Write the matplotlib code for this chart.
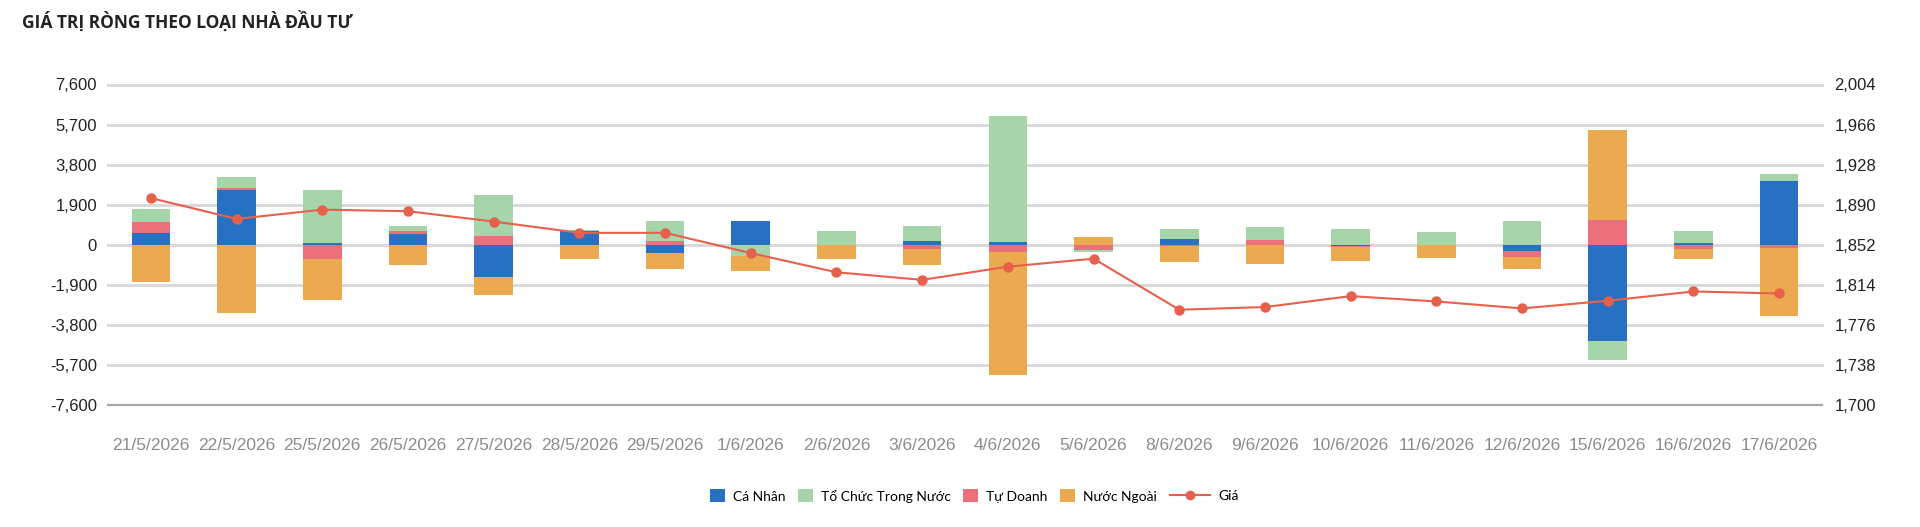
import numpy as np
import matplotlib
matplotlib.use("Agg")
import matplotlib.pyplot as plt
from matplotlib.ticker import FuncFormatter
from matplotlib.lines import Line2D
from matplotlib.patches import Patch

# data
dates = ["21/5/2026", "22/5/2026", "25/5/2026", "26/5/2026", "27/5/2026", "28/5/2026",
         "29/5/2026", "1/6/2026", "2/6/2026", "3/6/2026", "4/6/2026", "5/6/2026",
         "8/6/2026", "9/6/2026", "10/6/2026", "11/6/2026", "12/6/2026", "15/6/2026",
         "16/6/2026", "17/6/2026"]
ca_nhan = [566, 2611, 94, 519, -1526, 646, -409, 1150, 0, 157,
           130, 0, 252, 0, -80, 0, -315, -4562, 94, 3020]
to_chuc = [645, 519, 2501, 267, 1966, 30, 975, -519, 630, 755,
           5977, -80, 480, 645, 760, 582, 1117, -897, 535, 346]
tu_doanh = [503, 63, -661, 126, 393, -20, 157, -30, 0, -220,
            -346, -250, -60, 204, -20, 0, -283, 1195, -220, -157]
nuoc_ngoai = [-1762, -3225, -1966, -960, -865, -677, -755, -708, -677, -755,
              -5820, 350, -755, -928, -690, -613, -551, 4231, -456, -3240]
gia = [1896.3, 1876.5, 1885.3, 1883.8, 1874.0, 1863.3, 1863.3, 1844.1, 1825.9, 1818.7,
       1831.2, 1838.8, 1790.4, 1792.9, 1803.3, 1798.2, 1791.6, 1798.9, 1807.7, 1805.8]

left_ticks = [-7600, -5700, -3800, -1900, 0, 1900, 3800, 5700, 7600]
right_ticks = [1700, 1738, 1776, 1814, 1852, 1890, 1928, 1966, 2004]

C_BLUE = "#2870c2"
C_GREEN = "#a6d5a9"
C_RED = "#ec6f7c"
C_ORANGE = "#ecaa50"
C_LINE = "#e6604c"

fig = plt.figure(figsize=(19.2, 5.27), dpi=100)
ax = fig.add_axes([108 / 1920, 1 - 405 / 527, (1822 - 108) / 1920, (405 - 84.5) / 527])

x = np.arange(len(dates))
w = 0.45

# stacking order as in the picture: blue, red, green, orange
series = [(ca_nhan, C_BLUE), (tu_doanh, C_RED), (to_chuc, C_GREEN), (nuoc_ngoai, C_ORANGE)]
pos = np.zeros(len(dates))
neg = np.zeros(len(dates))
for vals, col in series:
    v = np.array(vals, dtype=float)
    bottom = np.where(v >= 0, pos, neg)
    ax.bar(x, v, w, bottom=bottom, color=col, zorder=3, linewidth=0)
    pos += np.where(v >= 0, v, 0)
    neg += np.where(v < 0, v, 0)

ax.set_xlim(-0.5, len(dates) - 0.5)
ax.set_ylim(-7600, 7600)
ax.set_yticks(left_ticks)
for t in left_ticks[1:]:
    ax.axhline(t, color="#d9d9d9", lw=2.2, zorder=1, clip_on=False)
ax.axhline(-7600, color="#a6a6a6", lw=1.6, zorder=1, clip_on=False)

ax.yaxis.set_major_formatter(FuncFormatter(lambda v, p: f"{int(v):,}"))
ax.set_xticks(x)
ax.set_xticklabels(dates)
for s in ax.spines.values():
    s.set_visible(False)
ax.tick_params(axis="x", length=0, pad=24, labelsize=12.5, labelcolor="#8c8c8c")
ax.tick_params(axis="y", length=0, pad=8, labelsize=12, labelcolor="#222222")
for lab in ax.get_xticklabels() + ax.get_yticklabels():
    lab.set_fontfamily("Liberation Sans")

ax2 = ax.twinx()
ax2.plot(x, gia, color=C_LINE, lw=1.5, marker="o", markersize=6.5, zorder=5)
ax2.set_ylim(1700, 2004)
ax2.set_yticks(right_ticks)
ax2.yaxis.set_major_formatter(FuncFormatter(lambda v, p: f"{int(v):,}"))
for s in ax2.spines.values():
    s.set_visible(False)
ax2.tick_params(axis="y", length=0, pad=9, labelsize=12, labelcolor="#222222")
for lab in ax2.get_yticklabels():
    lab.set_fontfamily("Liberation Sans")

fig.text(22 / 1920, 1 - 21 / 527, "GIÁ TRỊ RÒNG THEO LOẠI NHÀ ĐẦU TƯ",
         fontsize=12.5, fontweight="bold", family="Open Sans", color="#222222", va="center")

# legend: squares for the bars, a longer handle for the price line
bar_handles = [
    Patch(facecolor=C_BLUE, label="Cá Nhân"),
    Patch(facecolor=C_GREEN, label="Tổ Chức Trong Nước"),
    Patch(facecolor=C_RED, label="Tự Doanh"),
    Patch(facecolor=C_ORANGE, label="Nước Ngoài"),
]
line_handle = Line2D([], [], color=C_LINE, lw=1.5, marker="o", markersize=6, label="Giá")
leg_y = 1 - 496 / 527
fig.legend(handles=bar_handles, loc="center right", bbox_to_anchor=(1164 / 1920, leg_y),
           ncol=4, frameon=False, prop={"family": "Lato", "size": 10}, borderpad=0,
           handlelength=1.05, handleheight=1.05, handletextpad=0.6, columnspacing=0.9)
fig.legend(handles=[line_handle], loc="center left", bbox_to_anchor=(1163 / 1920, leg_y),
           frameon=False, prop={"family": "Lato", "size": 10}, borderpad=0,
           handlelength=2.9, handletextpad=0.6)

fig.savefig("out.png", dpi=100)
